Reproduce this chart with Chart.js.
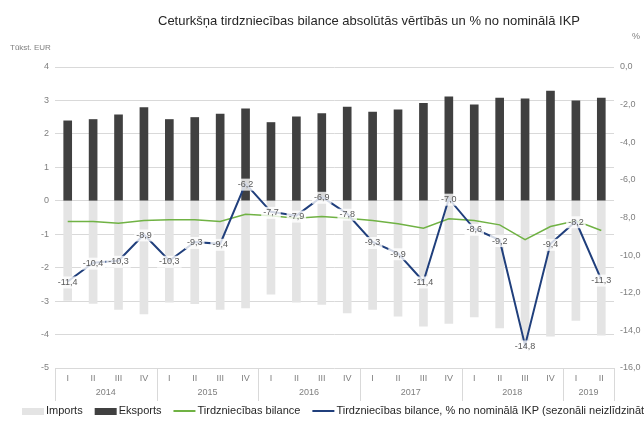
<!DOCTYPE html>
<html>
<head>
<meta charset="utf-8">
<script src="https://cdn.jsdelivr.net/npm/chart.js@4"></script>
<style>
  body { margin: 0; background: #fff; }
</style>
</head>
<body>
<canvas id="tradeChart" width="644" height="421"></canvas>
<script>
const quarters = ["I", "II", "III", "IV", "I", "II", "III", "IV", "I", "II", "III", "IV",
  "I", "II", "III", "IV", "I", "II", "III", "IV", "I", "II"];
const years = ["2014", "2014", "2014", "2014", "2015", "2015", "2015", "2015",
  "2016", "2016", "2016", "2016", "2017", "2017", "2017", "2017",
  "2018", "2018", "2018", "2018", "2019", "2019"];

// mljrd. EUR
const imports = [-2.98, -3.07, -3.25, -3.38, -3.03, -3.08, -3.25, -3.2, -2.79, -3.03, -3.1,
  -3.35, -3.25, -3.45, -3.75, -3.67, -3.47, -3.8, -4.2, -4.05, -3.58, -4.02];
const exportsData = [2.39, 2.43, 2.57, 2.79, 2.43, 2.49, 2.59, 2.75, 2.34, 2.51, 2.61,
  2.8, 2.65, 2.72, 2.91, 3.11, 2.87, 3.07, 3.05, 3.28, 2.99, 3.07];
const balance = [-0.62, -0.62, -0.67, -0.59, -0.57, -0.57, -0.62, -0.4, -0.45, -0.52, -0.47,
  -0.52, -0.59, -0.69, -0.82, -0.54, -0.59, -0.72, -1.16, -0.77, -0.6, -0.89];
// % no IKP
const balancePct = [-11.4, -10.4, -10.3, -8.9, -10.3, -9.3, -9.4, -6.2, -7.7, -7.9, -6.9,
  -7.8, -9.3, -9.9, -11.4, -7.0, -8.6, -9.2, -14.8, -9.4, -8.2, -11.3];

const leftTicks = { min: -5, max: 4, step: 1 };
const rightTicks = { min: -16, max: 0, step: 2 };

const FONT = "'Liberation Sans', Arial, sans-serif";
const gray = "#595959";
const tickGray = "#7f7f7f";

const comma = (v, d) => v.toFixed(d).replace(".", ",");

// white background, title, axis captions
const decorPlugin = {
  id: "decor",
  beforeDraw(chart) {
    const c = chart.ctx;
    c.save();
    c.fillStyle = "#fff";
    c.fillRect(0, 0, chart.width, chart.height);
    c.restore();
  },
  afterDraw(chart) {
    const c = chart.ctx;
    c.save();
    c.fillStyle = "#262626";
    c.font = "13px " + FONT;
    c.textAlign = "center";
    c.textBaseline = "middle";
    c.fillText("Ceturkšņa tirdzniecības bilance absolūtās vērtībās un % no nominālā IKP", 369, 21);
    c.fillStyle = tickGray;
    c.font = "8px " + FONT;
    c.textAlign = "left";
    c.fillText("Tūkst. EUR", 10, 48);
    c.font = "9px " + FONT;
    c.fillText("%", 632, 37);
    c.restore();
  },
};

// year row under the quarter labels
const yearsPlugin = {
  id: "yearRow",
  afterDraw(chart) {
    const c = chart.ctx;
    const x = chart.scales.x;
    const top = chart.chartArea.bottom;
    const half = (x.getPixelForValue(1) - x.getPixelForValue(0)) / 2;
    c.save();
    c.strokeStyle = "#d9d9d9";
    c.lineWidth = 1;
    c.fillStyle = tickGray;
    c.font = "9px " + FONT;
    c.textAlign = "center";
    c.textBaseline = "middle";
    let start = 0;
    for (let i = 1; i <= years.length; i++) {
      if (i === years.length || years[i] !== years[start]) {
        const x0 = x.getPixelForValue(start) - half;
        const x1 = x.getPixelForValue(i - 1) + half;
        c.fillText(years[start], (x0 + x1) / 2, top + 25);
        [x0, x1].forEach((px) => {
          c.beginPath();
          c.moveTo(Math.round(px) + 0.5, top);
          c.lineTo(Math.round(px) + 0.5, top + 33);
          c.stroke();
        });
        start = i;
      }
    }
    c.restore();
  },
};

// value labels on the % line
const pctLabels = {
  id: "pctLabels",
  afterDatasetsDraw(chart) {
    const c = chart.ctx;
    const meta = chart.getDatasetMeta(0);
    c.save();
    c.font = "9px " + FONT;
    c.textAlign = "center";
    c.textBaseline = "middle";
    meta.data.forEach((pt, i) => {
      const txt = comma(balancePct[i], 1);
      const w = c.measureText(txt).width + 4;
      const y = pt.y + 1;
      c.fillStyle = "rgba(255,255,255,0.8)";
      c.fillRect(pt.x - w / 2, y - 6, w, 12);
      c.fillStyle = gray;
      c.fillText(txt, pt.x, y);
    });
    c.restore();
  },
};

// legend along the bottom edge
const legendPlugin = {
  id: "bottomLegend",
  afterDraw(chart) {
    const c = chart.ctx;
    const y = 411;
    let x = 22;
    c.save();
    c.font = "11px " + FONT;
    c.textBaseline = "middle";
    c.textAlign = "left";
    chart.data.datasets.slice().reverse().forEach((ds) => {
      if (ds.type === "bar") {
        c.fillStyle = ds.backgroundColor;
        c.fillRect(x, y - 3, 22, 7);
      } else {
        c.strokeStyle = ds.borderColor;
        c.lineWidth = 2;
        c.beginPath();
        c.moveTo(x, y);
        c.lineTo(x + 22, y);
        c.stroke();
      }
      x += 24;
      c.fillStyle = "#262626";
      c.fillText(ds.label, x, y);
      x += c.measureText(ds.label).width + 12;
    });
    c.restore();
  },
};

const ctx = document.getElementById("tradeChart").getContext("2d");

const tradeChart = new Chart(ctx, {
  data: {
    labels: quarters,
    datasets: [
      {
        type: "line",
        label: "Tirdzniecības bilance, % no nominālā IKP (sezonāli neizlīdzināti dati)",
        data: balancePct,
        yAxisID: "y2",
        borderColor: "#203f7c",
        borderWidth: 2,
        pointRadius: 0,
        tension: 0,
        order: 0,
      },
      {
        type: "line",
        label: "Tirdzniecības bilance",
        data: balance,
        yAxisID: "y",
        borderColor: "#70b244",
        borderWidth: 1.5,
        pointRadius: 0,
        tension: 0,
        order: 1,
      },
      {
        type: "bar",
        label: "Eksports",
        data: exportsData,
        yAxisID: "y",
        backgroundColor: "#404040",
        barThickness: 8,
        grouped: false,
        order: 2,
      },
      {
        type: "bar",
        label: "Imports",
        data: imports,
        yAxisID: "y",
        backgroundColor: "#e4e4e4",
        barThickness: 8,
        grouped: false,
        order: 3,
      },
    ],
  },
  options: {
    responsive: false,
    animation: false,
    layout: { padding: { top: 67, left: 0, right: 0, bottom: 0 } },
    scales: {
      x: {
        grid: { display: false, drawTicks: false },
        border: { display: false },
        ticks: {
          autoSkip: false,
          maxRotation: 0,
          padding: 5,
          color: tickGray,
          font: { family: FONT, size: 9 },
        },
        afterFit(scale) {
          scale.height = 53;
        },
      },
      y: {
        position: "left",
        min: leftTicks.min,
        max: leftTicks.max,
        ticks: {
          stepSize: leftTicks.step,
          padding: 6,
          color: tickGray,
          font: { family: FONT, size: 9 },
          callback: (v) => String(v),
        },
        grid: { color: "#d9d9d9", drawTicks: false },
        border: { display: false },
        afterFit(scale) {
          scale.width = 55;
        },
      },
      y2: {
        position: "right",
        min: rightTicks.min,
        max: rightTicks.max,
        ticks: {
          stepSize: rightTicks.step,
          padding: 6,
          color: tickGray,
          font: { family: FONT, size: 9 },
          callback: (v) => comma(v, 1),
        },
        grid: { display: false, drawTicks: false },
        border: { display: false },
        afterFit(scale) {
          scale.width = 30;
        },
      },
    },
    plugins: {
      legend: { display: false },
      title: { display: false },
      tooltip: { enabled: false },
    },
  },
  plugins: [decorPlugin, pctLabels, yearsPlugin, legendPlugin],
});
</script>
</body>
</html>
